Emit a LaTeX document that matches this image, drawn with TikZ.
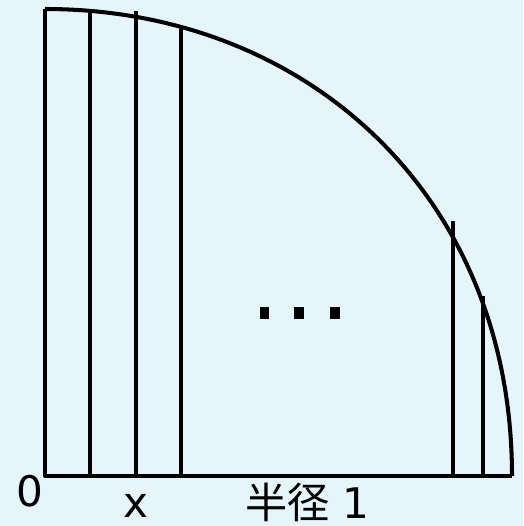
\documentclass[tikz,border=0pt]{standalone}
\usepackage{fontspec}
\setmainfont{DejaVu Sans}
\newfontfamily\jpfont{Noto Sans CJK JP}
\usepackage{tikz}
\usetikzlibrary{positioning}
\definecolor{bgblue}{HTML}{E6F5FC}
\tikzset{
  strip/.style={line width=2.3pt, line cap=butt, line join=round},
  lbl/.style={inner sep=0pt, font=\fontsize{24pt}{28pt}\selectfont},
}

\begin{document}
\begin{tikzpicture}[x=9.34cm,y=9.34cm]
  % background, fixes the margins
  \fill[bgblue] (-0.0964,-0.1071) rectangle (1.0236,1.0193);
  \useasboundingbox (-0.0964,-0.1071) rectangle (1.0236,1.0193);

  % quarter disc of radius 1
  \coordinate (O) at (0,0);
  \coordinate (T) at (0,1);
  \coordinate (R) at (1,0);

  % draw outline
  \draw[strip] (T) -- (O) -- (R);
  \draw[strip] (T) .. controls (0.56,1) and (1,0.6) .. (R);

  % strips
  \foreach \sx/\sy [count=\i] in {0.0964/0.9936, 0.1949/0.9957, 0.2912/0.957, 0.8737/0.546, 0.9379/0.385} {
    \coordinate (b\i) at (\sx,0);
    \coordinate (t\i) at (\sx,\sy);
    \draw[strip] (b\i) -- (t\i);
  }

  % dots in the middle
  \foreach \dx in {0.470,0.544,0.621}
    \fill (\dx-0.0107,0.3365) rectangle +(0.0214,0.0257);

  % labels
  \node[lbl, anchor=base] (zero) at ([xshift=-0.30cm, yshift=-0.62cm]O) {0};
  \node[lbl, anchor=base] (xlab) at ([yshift=-0.84cm]b2) {x};
  \node[lbl, anchor=base west] (radius) at (0.428,-0.090) {{\jpfont 半径} 1};
\end{tikzpicture}
\end{document}
